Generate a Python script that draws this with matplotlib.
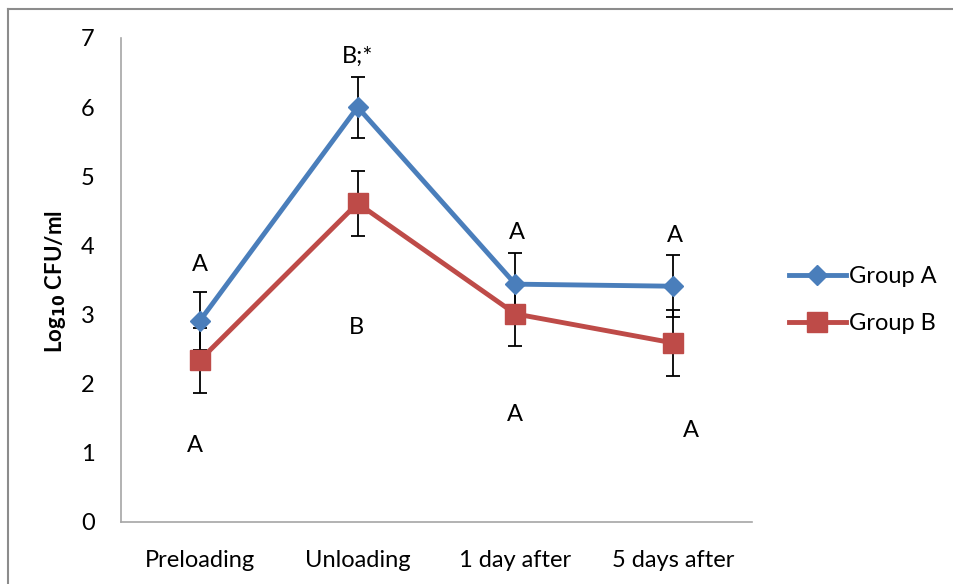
import matplotlib
matplotlib.use("Agg")
import matplotlib.pyplot as plt
from matplotlib.lines import Line2D

plt.rcParams['font.family'] = ['Lato', 'DejaVu Sans']

categories = ["Preloading", "Unloading", "1 day after", "5 days after"]
group_a = [2.91, 6.00, 3.44, 3.41]
group_a_err = [0.42, 0.44, 0.45, 0.45]
group_b = [2.34, 4.61, 3.01, 2.59]
group_b_err = [0.47, 0.47, 0.46, 0.48]
letters_upper = ["A", "B;*", "A", "A"]
letters_lower = ["A", "B", "A", "A"]
y_ticks = [0, 1, 2, 3, 4, 5, 6, 7]

blue = "#4a7ebb"
red = "#be4b48"
fs = 17

fig = plt.figure(figsize=(9.54, 5.84), dpi=100)
ax = fig.add_axes([121 / 954, 1 - 522 / 584, (752 - 121) / 954, (522 - 38) / 584])

x = list(range(len(categories)))

# error bars sit beneath the lines and markers
ax.errorbar(x, group_a, yerr=group_a_err, fmt="none", ecolor="black",
            elinewidth=1.3, capsize=5, capthick=1.3, zorder=2)
ax.errorbar(x, group_b, yerr=group_b_err, fmt="none", ecolor="black",
            elinewidth=1.3, capsize=5, capthick=1.3, zorder=2)

ax.plot(x, group_a, color=blue, linewidth=3.5, marker="D", markersize=10,
        markeredgecolor=blue, zorder=3, label="Group A")
ax.plot(x, group_b, color=red, linewidth=3.5, marker="s", markersize=14,
        markeredgecolor=red, zorder=3, label="Group B")

# significance letters above and below each time point
upper_pos = [(0.0, 3.72), (0.0, 6.73), (0.01, 4.19), (0.01, 4.14)]
lower_pos = [(-0.03, 1.11), (-0.01, 2.81), (0.0, 1.55), (0.11, 1.33)]
for i in x:
    dx, yy = upper_pos[i]
    ax.text(i + dx, yy, letters_upper[i], ha="center", va="center", fontsize=fs)
    dx, yy = lower_pos[i]
    ax.text(i + dx, yy, letters_lower[i], ha="center", va="center", fontsize=fs)

ax.set_xlim(-0.5, len(categories) - 0.5)
ax.set_ylim(0, 7)
ax.set_yticks(y_ticks)
ax.set_xticks(x)
ax.set_xticklabels(categories, fontsize=fs)
ax.tick_params(axis="y", labelsize=fs, length=0, pad=19)
ax.tick_params(axis="x", length=0, pad=20)

for side in ("top", "right"):
    ax.spines[side].set_visible(False)
for side in ("left", "bottom"):
    ax.spines[side].set_color("#a6a6a6")
    ax.spines[side].set_linewidth(1.2)

ax.set_ylabel(r"Log$_{\mathbf{10}}$ CFU/ml", fontsize=fs - 1, fontweight="bold")
ax.yaxis.set_label_coords(-0.084, 0.496)

handles = [
    Line2D([], [], color=blue, linewidth=3.5, marker="D", markersize=10),
    Line2D([], [], color=red, linewidth=3.5, marker="s", markersize=14),
]
fig.legend(handles, ["Group A", "Group B"], loc="center left",
           bbox_to_anchor=(782 / 954, 1 - 300 / 584), frameon=False,
           fontsize=fs, handlelength=2.4, handletextpad=0.15, labelspacing=1.1,
           borderaxespad=0, borderpad=0.3)

# outer frame on the top and left edges
fig.add_artist(Line2D([8.5 / 954, 1], [1 - 8.5 / 584, 1 - 8.5 / 584],
                      transform=fig.transFigure, color="#8c8c8c", linewidth=1.5))
fig.add_artist(Line2D([8.5 / 954, 8.5 / 954], [0, 1 - 8.5 / 584],
                      transform=fig.transFigure, color="#8c8c8c", linewidth=1.5))

fig.savefig("out.png", dpi=100, facecolor="white")
